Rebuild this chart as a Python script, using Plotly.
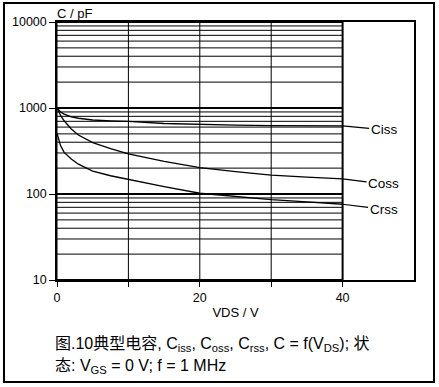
import plotly.graph_objects as go
import numpy as np

# ---- data ----
vds = [0, 0.5, 1, 2, 3, 5, 7.5, 10, 15, 20, 25, 30, 35, 40]
ciss = [1000, 900, 850, 790, 760, 725, 710, 698, 660, 640, 632, 625, 622, 620]
coss = [1000, 820, 710, 570, 485, 395, 338, 292, 240, 203, 182, 166, 157, 150]
crss = [510, 365, 305, 255, 222, 185, 163, 147, 122, 102, 93, 86, 81, 76]

series_names = ["Ciss", "Coss", "Crss"]
label_offsets_y = [2, 3, 3]  # leader drop in px

x_tickvals = [0, 20, 40]
x_ticktext = ["0", "20", "40"]
x_minor_ticks = [10, 30]
y_tickvals = [10, 100, 1000, 10000]
y_ticktext = ["10", "100", "1000", "10000"]

grid_x = [0, 10, 20, 30, 40]
grid_y = [m * 10 ** d for d in (1, 2, 3) for m in range(1, 10)] + [10000]
x_grid_end = 40

caption1 = "图.10典型电容, C<sub>iss</sub>, C<sub>oss</sub>, C<sub>rss</sub>, C = f(V<sub>DS</sub>); 状"
caption2 = "态: V<sub>GS</sub> = 0 V; f = 1 MHz"

FONT = "Liberation Sans, Arial, Noto Sans CJK SC, sans-serif"

fig = go.Figure()
for name, vals in zip(series_names, [ciss, coss, crss]):
    fig.add_trace(go.Scatter(x=vds, y=vals, mode="lines", name=name,
                             line=dict(color="black", width=1.3),
                             showlegend=False, hoverinfo="skip"))

shapes = []
for v in grid_y:
    major = v in y_tickvals
    shapes.append(dict(type="line", xref="x", yref="y", x0=0, x1=x_grid_end, y0=v, y1=v,
                       line=dict(color="black", width=2.2 if major else 1), layer="below"))
for v in grid_x:
    shapes.append(dict(type="line", xref="x", yref="y", x0=v, x1=v, y0=10, y1=10000,
                       line=dict(color="black", width=2 if v == x_grid_end else 1), layer="below"))
# outer frame
shapes.append(dict(type="rect", xref="paper", yref="paper", x0=-0.1485, x1=1.056,
                   y0=-0.395, y1=1.0736, line=dict(color="black", width=2)))

annotations = []
for name, vals, dy in zip(series_names, [ciss, coss, crss], label_offsets_y):
    annotations.append(dict(x=vds[-1], y=np.log10(vals[-1]), xref="x", yref="y",
                            text=name, showarrow=True, arrowhead=0, arrowwidth=1.2,
                            arrowcolor="black", ax=41, ay=dy + 2, standoff=0,
                            font=dict(family=FONT, size=13.5, color="black")))
annotations.append(dict(x=0, y=1, xref="paper", yref="paper", xanchor="left",
                        yanchor="bottom", text="C / pF", showarrow=False,
                        font=dict(family=FONT, size=13, color="black"), xshift=-2, yshift=-1))
annotations.append(dict(x=0, y=(280 - 344) / 258, xref="paper", yref="paper", xanchor="left",
                        yanchor="middle", text=caption1, showarrow=False,
                        font=dict(family=FONT, size=16, color="black"), xshift=-4))
annotations.append(dict(x=0, y=(280 - 366) / 258, xref="paper", yref="paper", xanchor="left",
                        yanchor="middle", text=caption2, showarrow=False,
                        font=dict(family=FONT, size=16, color="black"), xshift=-4))

fig.update_layout(
    width=439, height=387,
    margin=dict(l=57, r=25, t=22, b=107),
    paper_bgcolor="white", plot_bgcolor="white",
    font=dict(family=FONT, size=12.5, color="black"),
    shapes=shapes, annotations=annotations,
    xaxis=dict(range=[0, 50], tickvals=x_tickvals, ticktext=x_ticktext,
               ticks="outside", ticklen=5, tickcolor="black", tickwidth=1,
               minor=dict(tickvals=x_minor_ticks, ticks="outside", ticklen=5,
                          tickcolor="black", tickwidth=1, showgrid=False),
               showgrid=False, zeroline=False, showline=True, linecolor="black",
               linewidth=1.5, mirror=True,
               title=dict(text="VDS / V", font=dict(size=13), standoff=4)),
    yaxis=dict(type="log", range=[1, 4], tickvals=y_tickvals, ticktext=y_ticktext,
               ticks="outside", ticklen=6, tickcolor="black", tickwidth=1,
               showgrid=False, zeroline=False, showline=True, linecolor="black",
               linewidth=1.5, mirror=True),
)

fig.write_html("out.html", config={"displayModeBar": False},
               post_script="document.body.style.margin='0';document.body.style.padding='0';")
